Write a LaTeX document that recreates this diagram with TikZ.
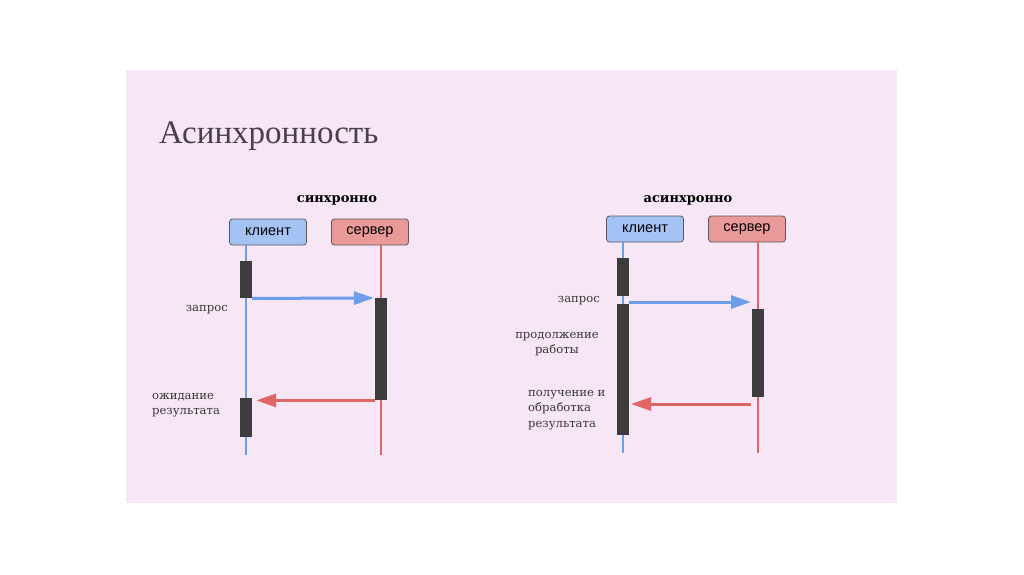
\documentclass[tikz,border=0pt]{standalone}
\usepackage{fontspec}
\setmainfont{Liberation Serif}
\newfontfamily\boxfont{Liberation Sans}
\newfontfamily\notefont{DejaVu Serif}
\usetikzlibrary{arrows.meta,positioning}
\definecolor{slide}{RGB}{247,230,245}
\definecolor{heading}{RGB}{74,63,80}
\definecolor{client}{RGB}{164,194,244}
\definecolor{clientline}{RGB}{109,158,235}
\definecolor{server}{RGB}{234,153,153}
\definecolor{serverline}{RGB}{224,102,102}
\definecolor{bar}{RGB}{60,60,60}
\definecolor{note}{RGB}{55,55,55}

\begin{document}
\begin{tikzpicture}[x=1pt,y=-1pt,
  actor/.style={draw=black!65,line width=0.8pt,rounded corners=3pt,minimum width=77pt,
                minimum height=26pt,inner sep=0pt,font=\boxfont\fontsize{14.5}{16}\selectfont},
  clientbox/.style={actor,fill=client},
  serverbox/.style={actor,fill=server},
  clientlife/.style={clientline,line width=2.2pt},
  serverlife/.style={serverline,line width=1.6pt},
  activity/.style={fill=bar,minimum width=12pt,inner sep=0pt,anchor=north},
  request/.style={clientline,line width=3pt,-{Triangle[length=20pt,width=13pt]},shorten >=1pt},
  reply/.style={serverline,line width=3pt,-{Triangle[length=20pt,width=13pt]},shorten >=4pt},
  mode/.style={font=\notefont\bfseries\fontsize{13}{15}\selectfont,text=black},
  note/.style={font=\notefont\fontsize{11.6}{15.6}\selectfont,text=note,inner sep=0pt}
]
\useasboundingbox (0,0) rectangle (1024,574);
\fill[white] (0,0) rectangle (1024,574);
\fill[slide] (126,70) rectangle (897,503);
\node[anchor=base west,text=heading,font=\fontsize{33}{38}\selectfont,inner sep=0pt]
  (title) at (159,143) {Асинхронность};

% synchronous case
\node[mode] (sync) at (337,200) {синхронно};
\node[clientbox] (kl1) at (268,232) {клиент};
\node[serverbox] (sr1) at (370,232) {сервер};
\coordinate (kl1e) at (246,455);
\coordinate (sr1e) at (381,455);
\draw[clientlife] (kl1.south -| kl1e) -- (kl1e);
\draw[serverlife] (sr1.south -| sr1e) -- (sr1e);
\node[activity,minimum height=37pt]  (c1) at (246,261) {};
\node[activity,minimum height=102pt] (s1) at (381,298) {};
\node[activity,minimum height=39pt]  (c2) at (246,398) {};
\draw[request] (c1.south east) -- (s1.north west);
\draw[reply] (s1.south west) -- (s1.south west -| c2.east);
\node[note,anchor=east] (q1) at (228,310) {запрос};
\node[note,anchor=west,align=left] (w1) at (152,405) {ожидание\\результата};

% asynchronous case
\node[mode] (async) at (688,200) {асинхронно};
\node[clientbox] (kl2) at (645,229) {клиент};
\node[serverbox] (sr2) at (747,229) {сервер};
\coordinate (kl2e) at (623,453);
\coordinate (sr2e) at (758,453);
\draw[clientlife] (kl2.south -| kl2e) -- (kl2e);
\draw[serverlife] (sr2.south -| sr2e) -- (sr2e);
\node[activity,minimum height=38pt]  (c3) at (623,258) {};
\node[activity,minimum height=131pt] (c4) at (623,304) {};
\node[activity,minimum height=88pt]  (s2) at (758,309) {};
\coordinate (a1) at (629,302);
\coordinate (a2) at (752,302);
\coordinate (b1) at (751,404);
\coordinate (b2) at (631,404);
\draw[request] (a1) -- (a2);
\draw[reply,shorten >=0pt] (b1) -- (b2);
\node[note,anchor=east] (q2) at (600,301) {запрос};
\node[note,align=center] (p2) at (557,344) {продолжение\\работы};
\node[note,anchor=west,align=left] (r2) at (528,410) {получение и\\обработка\\результата};
\end{tikzpicture}
\end{document}
